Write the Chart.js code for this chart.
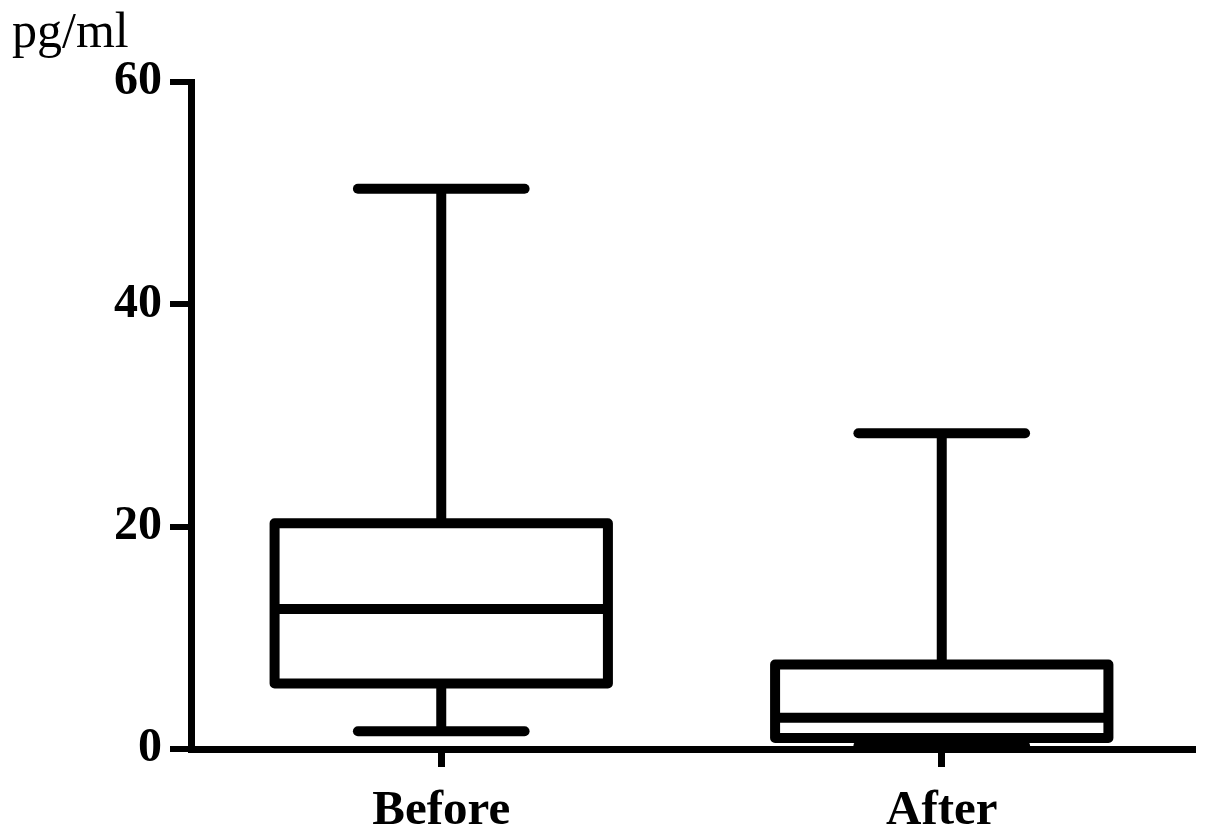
<!DOCTYPE html>
<html>
<head>
<meta charset="utf-8">
<script src="https://cdn.jsdelivr.net/npm/chart.js@4"></script>
<style>
html, body { margin: 0; padding: 0; background: #fff; }
</style>
</head>
<body>
<canvas id="myChart" width="1205" height="835"></canvas>
<script>
// values (pg/ml)
const groups = ['Before', 'After'];
const whiskerMax = [50.4, 28.4];
const upperQuartile = [20.3, 7.6];
const medians = [12.6, 2.8];
const lowerQuartile = [5.9, 1.0];
const whiskerMin = [1.6, 0.3];
const yTicks = [0, 20, 40, 60];
const unitLabel = 'pg/ml';

const serif = '"Liberation Serif", "Times New Roman", serif';

// box + whiskers, drawn with the chart's own scales
const boxPlot = {
    id: 'boxPlot',
    afterDraw(chart) {
        const ctx = chart.ctx;
        const x = chart.scales.x;
        const y = chart.scales.y;
        const catW = x.width / groups.length;

        function line(x1, y1, x2, y2) {
            ctx.beginPath();
            ctx.moveTo(x1, y1);
            ctx.lineTo(x2, y2);
            ctx.stroke();
        }

        ctx.save();
        ctx.strokeStyle = '#000';
        ctx.lineWidth = 10;
        ctx.lineJoin = 'round';
        groups.forEach(function (g, i) {
            let cx = x.getPixelForValue(i);
            let half = catW * 0.333;
            let cap = half / 2;
            let yMax = y.getPixelForValue(whiskerMax[i]);
            let yQ3 = y.getPixelForValue(upperQuartile[i]);
            let yMed = y.getPixelForValue(medians[i]);
            let yQ1 = y.getPixelForValue(lowerQuartile[i]);
            let yMin = y.getPixelForValue(whiskerMin[i]);

            ctx.lineCap = 'butt';
            line(cx, yMax, cx, yQ3);
            line(cx, yQ1, cx, yMin);
            ctx.lineCap = 'round';
            line(cx - cap, yMax, cx + cap, yMax);
            line(cx - cap, yMin, cx + cap, yMin);
            ctx.strokeRect(cx - half, yQ3, 2 * half, yQ1 - yQ3);
            ctx.lineCap = 'butt';
            line(cx - half, yMed, cx + half, yMed);
        });

        // unit label top-left
        ctx.fillStyle = '#000';
        ctx.font = '50px ' + serif;
        ctx.textAlign = 'left';
        ctx.textBaseline = 'alphabetic';
        ctx.fillText(unitLabel, 12, 47);
        ctx.restore();
    }
};

let ctx = document.getElementById('myChart').getContext('2d');
let chart = new Chart(ctx, {
    type: 'bar',
    data: {
        labels: groups,
        datasets: [{
            label: unitLabel,
            data: groups.map(function (g, i) { return [lowerQuartile[i], upperQuartile[i]]; }),
            backgroundColor: 'rgba(0,0,0,0)',
            borderWidth: 0
        }]
    },
    options: {
        responsive: false,
        animation: false,
        layout: { padding: { top: 82, right: 13, left: 0, bottom: 0 } },
        plugins: {
            legend: { display: false },
            tooltip: { enabled: false }
        },
        scales: {
            x: {
                grid: { offset: false, drawOnChartArea: false, tickLength: 18, lineWidth: 7, color: '#000' },
                border: { color: '#000', width: 7 },
                ticks: { color: '#000', padding: 15, font: { family: serif, size: 49, weight: 'bold' } },
                afterFit: function (s) { s.height = 86; }
            },
            y: {
                min: yTicks[0],
                max: yTicks[yTicks.length - 1],
                afterBuildTicks: function (s) { s.ticks = yTicks.map(function (v) { return { value: v }; }); },
                grid: { drawOnChartArea: false, tickLength: 21, lineWidth: 6, color: '#000' },
                border: { color: '#000', width: 7 },
                ticks: { color: '#000', padding: 8, font: { family: serif, size: 48, weight: 'bold' } },
                afterFit: function (s) { s.width = 191; }
            }
        }
    },
    plugins: [boxPlot]
});
</script>
</body>
</html>
